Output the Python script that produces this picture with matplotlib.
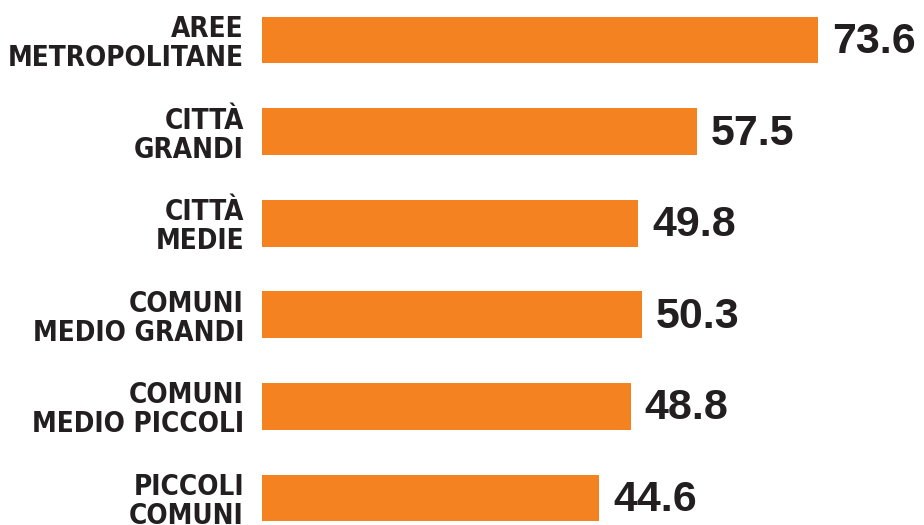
import numpy as np
import matplotlib.pyplot as plt

categories = ['AREE\nMETROPOLITANE', 'CITTÀ\nGRANDI', 'CITTÀ\nMEDIE',
              'COMUNI\nMEDIO GRANDI', 'COMUNI\nMEDIO PICCOLI', 'PICCOLI\nCOMUNI']
values = [73.6, 57.5, 49.8, 50.3, 48.8, 44.6]
value_labels = ['73.6', '57.5', '49.8', '50.3', '48.8', '44.6']

orange = '#F48221'
dark = '#231F20'

fig = plt.figure(figsize=(9.24, 5.25), dpi=100)
ax = fig.add_axes([262 / 924, 0, 662 / 924, 1])

y = np.arange(len(values))
ax.barh(y, values, height=0.51, color=orange)

for yi, v, s in zip(y, values, value_labels):
    ax.annotate(s, (v, yi), xytext=(10, -1.5), textcoords='offset points',
                ha='left', va='center', fontsize=31, fontweight='bold',
                family='Liberation Sans', color=dark)

ax.set_yticks(y)
ax.set_yticklabels(categories, fontsize=20, fontweight='bold', family='DejaVu Sans',
                   fontstretch='condensed', color=dark, linespacing=1.05)
ax.tick_params(axis='y', length=0, pad=13)
ax.tick_params(axis='x', bottom=False, labelbottom=False)

ax.set_xlim(0, 87.6)
ax.set_ylim(5.295, -0.437)
for sp in ax.spines.values():
    sp.set_visible(False)

fig.savefig('out.png', dpi=100)
